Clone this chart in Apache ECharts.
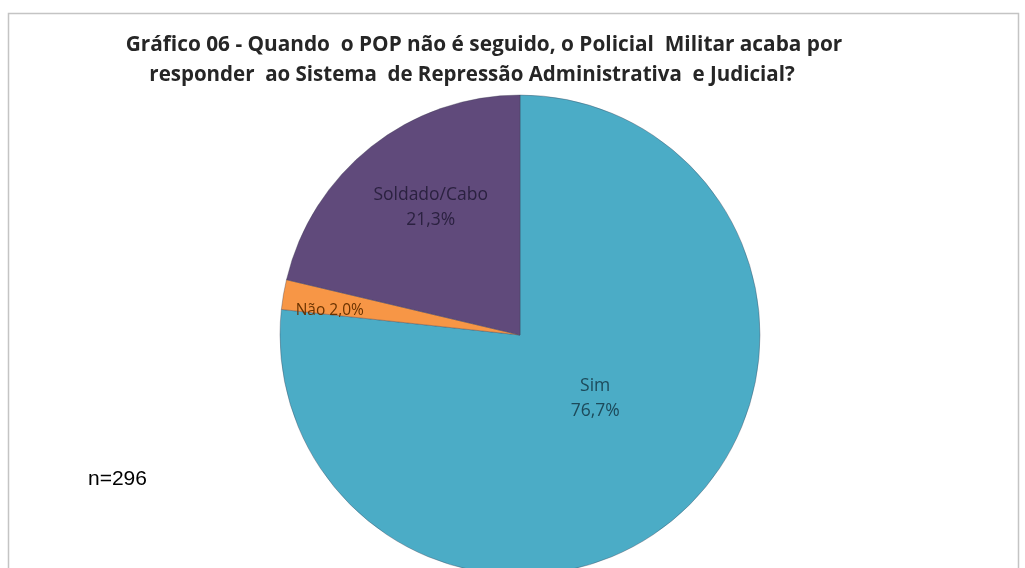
<!DOCTYPE html>
<html>
<head>
<meta charset="utf-8">
<script src="https://cdn.jsdelivr.net/npm/echarts@6/dist/echarts.min.js"></script>
<style>
html,body{margin:0;padding:0;background:#fff;}
#c{width:1025px;height:568px;}
</style>
</head>
<body>
<div id="c"></div>
<script>
var categories = ['Sim', 'Não', 'Soldado/Cabo'];
var values = [76.7, 2.0, 21.3];
var titleLines = ['Gráfico 06 - Quando  o POP não é seguido, o Policial  Militar acaba por', 'responder  ao Sistema  de Repressão Administrativa  e Judicial?'];
var note = 'n=296';

var colors = ['#4BACC6', '#F79646', '#604A7B'];
var labelColors = ['#1d4a5a', '#6a3300', '#2b2140'];
var labelOffsets = [[-7, -28], [-69, -4], [-13, -31]];

function pct(v) { return v.toFixed(1).replace('.', ',') + '%'; }

var chart = echarts.init(document.getElementById('c'));
var data = categories.map(function (c, i) {
  return {
    name: c,
    value: values[i],
    itemStyle: { color: colors[i] },
    label: i === 1 ? {
      formatter: function (p) { return p.name + ' ' + pct(p.value); },
      fontSize: 15.5,
      color: labelColors[i],
      offset: labelOffsets[i]
    } : {
      formatter: function (p) { return p.name + '\n' + pct(p.value); },
      color: labelColors[i],
      offset: labelOffsets[i]
    }
  };
});

chart.setOption({
  animation: false,
  graphic: [
    { type: 'rect', shape: { x: 8.5, y: 13.5, width: 1010, height: 570 }, style: { fill: 'none', stroke: '#c4c4c4', lineWidth: 1.5 }, z: 0 },
    { type: 'text', left: 88, top: 469, style: { text: note, font: '21px "Liberation Sans", Arial, sans-serif', fill: '#000' } }
  ],
  title: [
    { text: titleLines[0], left: 479, top: 30, textAlign: 'center', textStyle: { fontFamily: 'Open Sans', fontWeight: 'bold', fontSize: 20.8, color: '#262626' } },
    { text: titleLines[1], left: 467, top: 60, textAlign: 'center', textStyle: { fontFamily: 'Open Sans', fontWeight: 'bold', fontSize: 20.5, color: '#262626' } }
  ],
  series: [{
    type: 'pie',
    center: [520, 335],
    radius: 240,
    startAngle: 90,
    clockwise: true,
    data: data,
    itemStyle: { borderColor: 'rgba(60,60,80,0.35)', borderWidth: 1 },
    label: {
      show: true,
      position: 'inside',
      fontFamily: 'Open Sans',
      fontSize: 17.5,
      lineHeight: 25
    },
    labelLine: { show: false },
    emphasis: { disabled: true }
  }]
});
</script>
</body>
</html>
